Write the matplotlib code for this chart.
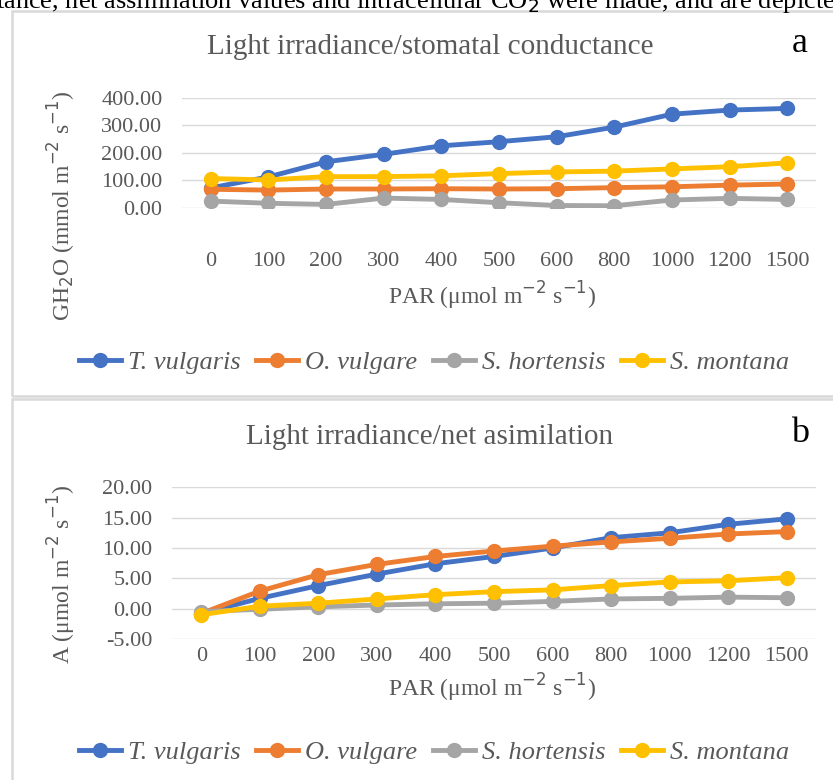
import matplotlib.pyplot as plt
from matplotlib.patches import Rectangle
from matplotlib.lines import Line2D

W, H = 833, 780

par = ["0", "100", "200", "300", "400", "500", "600", "800", "1000", "1200", "1500"]
species = ["T. vulgaris", "O. vulgare", "S. hortensis", "S. montana"]
colors = ["#4472C4", "#ED7D31", "#A5A5A5", "#FFC000"]

# stomatal conductance (mmol m-2 s-1)
gh2o_tv = [72, 112, 167, 194, 225, 240, 258, 293, 340, 355, 361]
gh2o_ov = [67, 64, 68, 68, 69, 68, 69, 73, 76, 82, 86]
gh2o_sh = [24, 16, 12, 35, 30, 18, 8, 7, 28, 34, 30]
gh2o_sm = [106, 101, 113, 113, 116, 124, 130, 133, 141, 149, 163]

# net assimilation (umol m-2 s-1)
a_tv = [-0.8, 1.7, 3.8, 5.7, 7.4, 8.6, 10.0, 11.7, 12.5, 13.9, 14.8]
a_ov = [-0.8, 2.9, 5.6, 7.3, 8.6, 9.5, 10.3, 11.0, 11.6, 12.3, 12.7]
a_sh = [-0.5, -0.1, 0.3, 0.6, 0.8, 0.9, 1.2, 1.6, 1.7, 1.9, 1.8]
a_sm = [-1.0, 0.4, 0.9, 1.6, 2.3, 2.8, 3.1, 3.8, 4.4, 4.6, 5.1]

serif = "Liberation Serif"
grey_txt = "#595959"


def fx(px):
    return px / W


def fy(py):
    return 1 - py / H


fig = plt.figure(figsize=(W / 100, H / 100), dpi=100)

# cut-off line of body text above the figure
fig.text(fx(-4), fy(8), "tance, net assimilation values and intracellular CO$_2$ were made, and are depicted",
         family=serif, fontsize=19, color="black", va="baseline", ha="left")

# panel frames
fig.patches.append(Rectangle((fx(12), fy(396)), fx(850) - fx(12), fy(11) - fy(396),
                             transform=fig.transFigure, fill=False, edgecolor="#D9D9D9", lw=1.8))
fig.patches.append(Rectangle((fx(12), fy(800)), fx(850) - fx(12), fy(399) - fy(800),
                             transform=fig.transFigure, fill=False, edgecolor="#D9D9D9", lw=1.8))


def panel(left, right, top, bottom, series, ylim, yticks, tick_pad, title, title_y,
          letter, ylabel, ylabel_y, xlabel_y, legend_y):
    ax = fig.add_axes([fx(left), fy(bottom), fx(right) - fx(left), fy(top) - fy(bottom)])
    x = range(len(par))
    for vals, c, name in zip(series, colors, species):
        ax.plot(x, vals, color=c, lw=3.5, marker="o", ms=10, label=name, solid_capstyle="round")
    ax.set_xlim(-0.5, len(par) - 0.5)
    ax.set_ylim(*ylim)
    ax.set_yticks(yticks)
    ax.set_yticklabels(["%.2f" % v for v in yticks])
    ax.set_xticks(list(x))
    ax.set_xticklabels(par)
    ax.grid(axis="y", color="#D9D9D9", lw=1)
    ax.set_axisbelow(True)
    for s in ax.spines.values():
        s.set_visible(False)
    ax.tick_params(length=0, labelsize=16, labelcolor=grey_txt)
    ax.tick_params(axis="x", pad=tick_pad)
    ax.tick_params(axis="y", pad=14)
    for lab in ax.get_xticklabels() + ax.get_yticklabels():
        lab.set_family(serif)
    ax.set_facecolor("none")

    fig.text(fx(430), fy(title_y), title, family=serif, fontsize=21, color=grey_txt,
             ha="center", va="center")
    fig.text(fx(800), fy(title_y - 3), letter, family=serif, fontsize=26, color="black",
             ha="center", va="center")
    fig.text(fx(492), fy(xlabel_y), r"PAR ($\mathregular{\mu}$mol m$^{-2}$ s$^{-1}$)",
             family=serif, fontsize=17, color=grey_txt, ha="center", va="center")
    fig.text(fx(62), fy(ylabel_y), ylabel, family=serif, fontsize=17,
             color=grey_txt, rotation=90, ha="center", va="center")

    handles = [Line2D([], [], color=c, lw=3.5, marker="o", ms=10) for c in colors]
    leg = fig.legend(handles, species, loc="center", bbox_to_anchor=(fx(434), fy(legend_y)),
                     ncol=4, frameon=False, handlelength=1.6, handletextpad=0.25,
                     columnspacing=0.6, prop={"family": serif, "style": "italic", "size": 19})
    for t in leg.get_texts():
        t.set_color(grey_txt)
    return ax


panel(182, 816, 97.7, 207.7, [gh2o_tv, gh2o_ov, gh2o_sh, gh2o_sm], (0, 400),
      [0, 100, 200, 300, 400], 32, "Light irradiance/stomatal conductance", 47, "a",
      r"GH$_2$O (mmol m$^{-2}$ s$^{-1}$)", 206, 296, 362)

panel(172, 816, 487.3, 639, [a_tv, a_ov, a_sh, a_sm], (-5, 20),
      [-5, 0, 5, 10, 15, 20], 6, "Light irradiance/net asimilation", 437, "b",
      r"A ($\mathregular{\mu}$mol m$^{-2}$ s$^{-1}$)", 574, 688, 752)

fig.savefig("out.png", dpi=100)
